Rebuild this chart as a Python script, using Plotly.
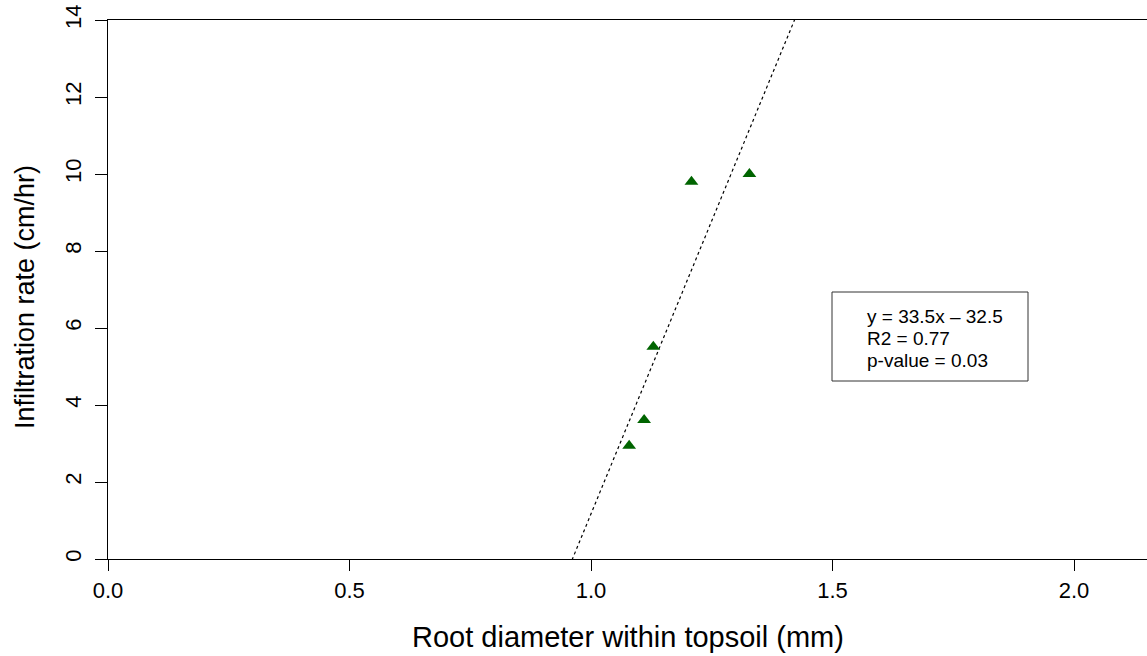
import numpy as np
import plotly.graph_objects as go

# Data
root_diameter = [1.079, 1.110, 1.129, 1.208, 1.328]
infiltration = [2.94, 3.61, 5.51, 9.80, 10.00]
x_ticks = [0.0, 0.5, 1.0, 1.5, 2.0]
x_tick_labels = ["0.0", "0.5", "1.0", "1.5", "2.0"]
y_ticks = [0, 2, 4, 6, 8, 10, 12, 14]
stats_lines = ["y = 33.5x \u2013 32.5", "R2 = 0.77", "p-value = 0.03"]

W, H = 1147, 656
ML, MR, MT, MB = 108, 0, 20, 97
x_range = [0, (W - ML - MR) / 483.0]
y_range = [0, 14]

slope, intercept = np.polyfit(root_diameter, infiltration, 1)
fit_x = np.array(x_range)
fit_y = slope * fit_x + intercept

fig = go.Figure()
fig.add_trace(go.Scatter(
    x=fit_x, y=fit_y, mode="lines",
    line=dict(color="black", width=1.2, dash="dot"),
    hoverinfo="skip", showlegend=False,
))
fig.add_trace(go.Scatter(
    x=root_diameter, y=infiltration, mode="markers",
    marker=dict(symbol="triangle-up", size=12, color="#006400"),
    showlegend=False, cliponaxis=False,
))

font = "Liberation Sans, Arial, sans-serif"
fig.update_layout(
    width=W, height=H,
    margin=dict(l=ML, r=MR, t=MT, b=MB),
    paper_bgcolor="white", plot_bgcolor="white",
    font=dict(family=font, color="black"),
    xaxis=dict(
        range=x_range, tickvals=x_ticks, ticktext=x_tick_labels,
        showgrid=False, zeroline=False, showline=True, linecolor="black",
        linewidth=1, mirror=True, ticks="outside", ticklen=11, tickwidth=1,
        tickcolor="black", tickfont=dict(size=22, family=font),
        ticklabelstandoff=1,
    ),
    yaxis=dict(
        range=y_range, tickvals=y_ticks, showgrid=False, zeroline=False,
        showline=True, linecolor="black", linewidth=1, ticks="outside",
        ticklen=12, tickwidth=1, tickcolor="black", tickangle=-90,
        tickfont=dict(size=22, family=font), ticklabelstandoff=5,
    ),
)

pw = W - ML - MR
ph = H - MT - MB

def px_x(p):
    return (p - ML) / pw

def px_y(p):
    return (H - MB - p) / ph

fig.add_annotation(
    text="Root diameter within topsoil (mm)", xref="paper", yref="paper",
    x=px_x(628), y=px_y(637), xanchor="center", yanchor="middle",
    showarrow=False, font=dict(size=29, family=font),
)
fig.add_annotation(
    text="Infiltration rate (cm/hr)", xref="paper", yref="paper",
    x=px_x(25), y=px_y(297), xanchor="center", yanchor="middle",
    textangle=-90, showarrow=False, font=dict(size=27, family=font),
)

# stats box
fig.add_shape(
    type="rect", xref="paper", yref="paper",
    x0=px_x(832), x1=px_x(1028), y0=px_y(381), y1=px_y(292),
    line=dict(color="#333333", width=1), fillcolor="white",
)
for i, t in enumerate(stats_lines):
    fig.add_annotation(
        text=t, xref="paper", yref="paper",
        x=px_x(865), y=px_y(316 + 22 * i), xanchor="left", yanchor="middle",
        showarrow=False, font=dict(size=19, family=font),
    )

fig.write_html("out.html")
